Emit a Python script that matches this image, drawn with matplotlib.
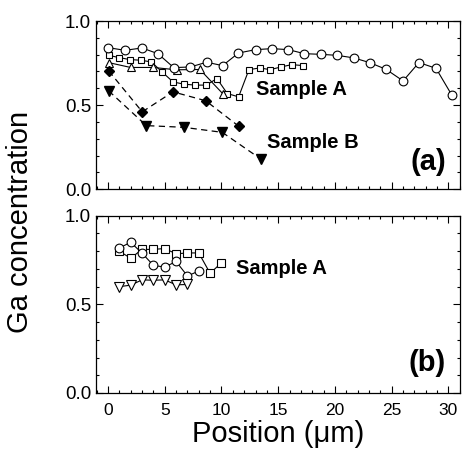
import matplotlib.pyplot as plt
from matplotlib.ticker import MultipleLocator

plt.rcParams['font.family'] = ['Liberation Sans', 'DejaVu Sans']

# panel (a), sample A
a_circ_x = [0, 1.5, 3.0, 4.4, 5.8, 7.25, 8.7, 10.1, 11.5, 13.0, 14.45, 15.9,
            17.3, 18.8, 20.2, 21.65, 23.05, 24.5, 26.0, 27.4, 28.9, 30.3]
a_circ_y = [0.842, 0.826, 0.84, 0.806, 0.723, 0.727, 0.755, 0.735, 0.81, 0.83, 0.836,
            0.83, 0.806, 0.802, 0.796, 0.781, 0.753, 0.713, 0.644, 0.753, 0.719, 0.559]
a_sq_x = [0.06, 0.97, 1.91, 2.88, 3.82, 4.76, 5.73, 6.67, 7.67, 8.66, 9.6, 10.51,
          11.51, 12.42, 13.36, 14.3, 15.24, 16.21, 17.18]
a_sq_y = [0.796, 0.783, 0.771, 0.767, 0.757, 0.698, 0.638, 0.625, 0.619, 0.619, 0.658,
          0.569, 0.549, 0.711, 0.721, 0.711, 0.727, 0.741, 0.735]
a_tri_x = [0.05, 2.0, 4.0, 6.05, 8.1, 10.1]
a_tri_y = [0.753, 0.724, 0.724, 0.71, 0.712, 0.569]

# panel (a), sample B
b_dia_x = [0.06, 3.02, 5.73, 8.61, 11.51]
b_dia_y = [0.704, 0.46, 0.579, 0.526, 0.375]
b_tri_x = [0.06, 3.38, 6.67, 10.07, 13.45]
b_tri_y = [0.585, 0.378, 0.368, 0.338, 0.18]

# panel (b), sample A
p_sq_x = [1, 2, 3, 4, 5, 6, 7, 8, 9, 10]
p_sq_y = [0.80, 0.76, 0.81, 0.81, 0.815, 0.785, 0.79, 0.79, 0.675, 0.735]
p_circ_x = [1, 2, 3, 4, 5, 6, 7, 8]
p_circ_y = [0.818, 0.85, 0.789, 0.72, 0.71, 0.742, 0.66, 0.688]
p_tri_x = [1, 2, 3, 4, 5, 6, 7]
p_tri_y = [0.60, 0.608, 0.638, 0.636, 0.638, 0.61, 0.612]

fig = plt.figure(figsize=(4.64, 4.58), dpi=100)
ax1 = fig.add_axes([0.207, 0.587, 0.784, 0.367])
ax2 = fig.add_axes([0.207, 0.142, 0.784, 0.387])

op = dict(color='black', lw=0.8, mfc='white', mec='black', mew=0.8)
dash = dict(color='black', lw=0.9, linestyle=(0, (5, 3.5)))

ax1.plot(a_sq_x, a_sq_y, marker='s', ms=5, **op)
ax1.plot(a_tri_x, a_tri_y, marker='^', ms=6, **op)
ax1.plot(a_circ_x, a_circ_y, marker='o', ms=6.3, **op)
ax1.plot(b_dia_x, b_dia_y, marker='D', ms=5, mfc='black', mec='black', **dash)
ax1.plot(b_tri_x, b_tri_y, marker='v', ms=6.5, mfc='black', mec='black', **dash)
ax1.text(13.07, 0.59, 'Sample A', fontsize=14.5, fontweight='bold', va='center')
ax1.text(13.98, 0.276, 'Sample B', fontsize=14.5, fontweight='bold', va='center')
ax1.text(29.8, 0.16, '(a)', fontsize=21, fontweight='bold', ha='right', va='center')

ax2.plot(p_sq_x, p_sq_y, marker='s', ms=5.5, **op)
ax2.plot(p_circ_x, p_circ_y, marker='o', ms=6.3, **op)
ax2.plot(p_tri_x, p_tri_y, marker='v', ms=6.5, **op)
ax2.text(11.26, 0.704, 'Sample A', fontsize=14.5, fontweight='bold', va='center')
ax2.text(29.8, 0.168, '(b)', fontsize=21, fontweight='bold', ha='right', va='center')

for ax in (ax1, ax2):
    ax.set_xlim(-1.05, 31.0)
    ax.set_ylim(0, 1.0)
    ax.xaxis.set_major_locator(MultipleLocator(5))
    ax.xaxis.set_minor_locator(MultipleLocator(1))
    ax.yaxis.set_major_locator(MultipleLocator(0.5))
    ax.yaxis.set_minor_locator(MultipleLocator(0.1))
    ax.yaxis.set_major_formatter(plt.FormatStrFormatter('%.1f'))
    ax.tick_params(which='both', direction='in', top=True, right=True, width=0.8)
    ax.tick_params(which='major', length=5)
    ax.tick_params(which='minor', length=2.5)
    ax.tick_params(axis='x', pad=7, labelsize=12.5)
    ax.tick_params(axis='y', labelsize=13.5)
    for s in ax.spines.values():
        s.set_linewidth(0.9)

ax1.tick_params(labelbottom=False)
ax2.set_xlabel('Position (μm)', fontsize=21, labelpad=2)
fig.text(0.043, 0.515, 'Ga concentration', rotation=90, fontsize=21, ha='center', va='center')

plt.savefig('out.png', dpi=100)
